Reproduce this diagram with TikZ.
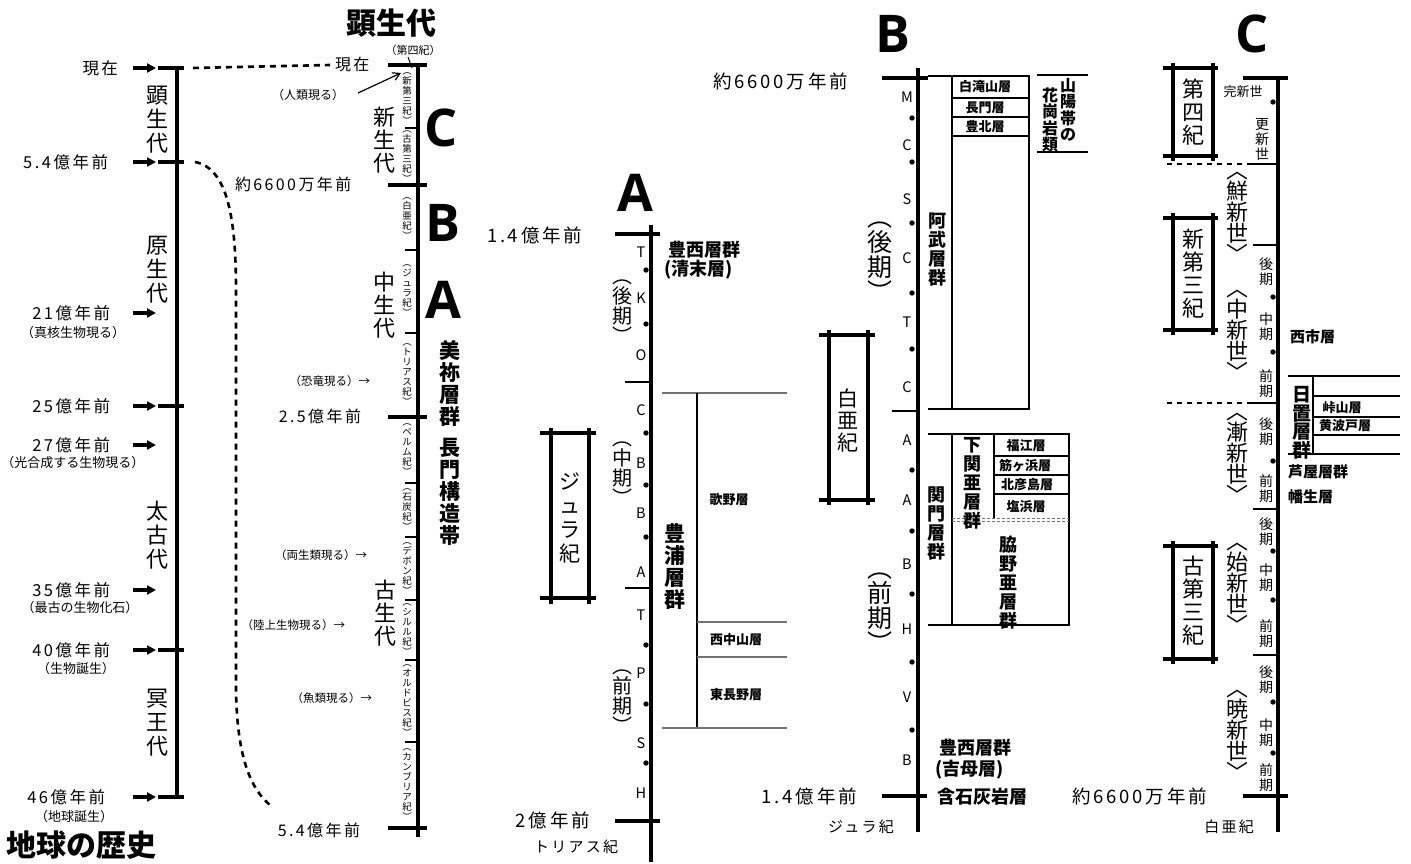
\documentclass[tikz,border=0pt]{standalone}
\usepackage{fontspec}
\usetikzlibrary{arrows.meta}
\setmainfont{Noto Sans CJK JP}
\newfontfamily\jpf{Noto Sans CJK JP}
\newfontfamily\jpd{Noto Sans CJK JP}[LetterSpace=15]
\newfontfamily\abcf{Open Sans}
\newcommand{\fsz}[2]{\fontsize{#1}{#2}\selectfont}
\begin{document}
\begin{tikzpicture}[x=1pt,y=-1pt,
  every node/.style={inner sep=0pt,outer sep=0pt},
  ax/.style={line width=4.5pt},
  tk/.style={line width=4.5pt},
  tn/.style={line width=2pt},
  fr/.style={line width=1.1pt},
  frg/.style={line width=1.1pt,black!55},
  bx/.style={line width=3.5pt},
  arrL/.style={line width=3.5pt,-{Triangle[length=9pt,width=9pt]}},
  dsh/.style={line width=2.6pt,dash pattern=on 6pt off 5pt},
  dshc/.style={line width=1.6pt,dash pattern=on 5pt off 5pt},
  lt/.style={font=\jpf\fsz{14.5}{14.5}},
  dateL/.style={font=\jpd\fsz{16.5}{16.5}},
  dateM/.style={font=\jpd\fsz{16}{16}},
  dateB/.style={font=\jpd\fsz{18.5}{18.5}},
  dateS/.style={font=\jpd\fsz{15}{15}},
  sub/.style={font=\jpf\fsz{13}{13}},
  note/.style={font=\jpf\fsz{11.5}{11.5}},
  era/.style={align=center,font=\jpf\fsz{22}{24}},
  era2/.style={align=center,font=\jpf\fsz{22}{23}},
  per/.style={align=center,font=\jpf\fsz{9.5}{10}},
  abc/.style={font=\abcf\bfseries\fsz{52}{52}},
  bv/.style={align=center,font=\jpf\bfseries\fsz{21}{22}},
  bv18/.style={align=center,font=\jpf\bfseries\fsz{18}{19}},
  bh18/.style={font=\jpf\bfseries\fsz{18}{18}},
  bh15/.style={font=\jpf\bfseries\fsz{15}{15}},
  bh13/.style={font=\jpf\bfseries\fsz{13}{13}},
  sm/.style={align=center,font=\jpf\fsz{14}{15}},
  pv/.style={align=center,font=\jpf\fsz{20}{20}},
  pvb/.style={align=center,font=\jpf\fsz{25}{25}},
  epo/.style={align=center,font=\jpf\fsz{22}{21}}
]
\fill[white] (0,0) rectangle (1411,864);
\useasboundingbox (0,0) rectangle (1411,864);

% ================= Left column: 地球の歴史 =================
\draw[ax] (177,66) -- (177,799);
\foreach \y in {68,162,406,650,797} \draw[tk] (158,\y) -- (184,\y);
\foreach \y in {68,162,313,406,445,590,650,797} \draw[arrL] (133,\y) -- (156,\y);
\node[dateL,anchor=east] (n0) at (118,68) {現在};
\node[dateL,anchor=east] (n1) at (108,162) {5.4億年前};
\node[dateL,anchor=east] (n2) at (110,313) {21億年前};
\node[sub] (s2) at (73,333) {（真核生物現る）};
\node[dateL,anchor=east] (n3) at (110,406) {25億年前};
\node[dateL,anchor=east] (n4) at (110,445) {27億年前};
\node[sub] (s4) at (73,463) {（光合成する生物現る）};
\node[dateL,anchor=east] (n5) at (110,590) {35億年前};
\node[sub] (s5) at (80,608) {（最古の生物化石）};
\node[dateL,anchor=east] (n6) at (110,650) {40億年前};
\node[sub] (s6) at (76,669) {（生物誕生）};
\node[dateL,anchor=east] (n7) at (105,797) {46億年前};
\node[sub] (s7) at (74,817) {（地球誕生）};
\node[era] (e1) at (157,120) {顕\\生\\代};
\node[era] (e2) at (157,270) {原\\生\\代};
\node[era] (e3) at (157,535) {太\\古\\代};
\node[era] (e4) at (157,723) {冥\\王\\代};
\node[font=\jpf\bfseries\fsz{30}{30},anchor=west] (title) at (6,845) {地球の歴史};
\coordinate (d1a) at (193,68);
\coordinate (d1b) at (330,65);
\draw[dsh] (d1a) -- (d1b);
\coordinate (d2a) at (195,162);
\coordinate (d2b) at (270,805);
\draw[dsh] (d2a) .. controls (228,168) and (236,220) .. (236,290) -- (236,690) .. controls (237,760) and (252,790) .. (d2b);

% ================= Second column: 顕生代 =================
\node[font=\jpf\bfseries\fsz{30}{30}] (t2) at (391,23) {顕生代};
\node[font=\jpf\fsz{11}{11}] (q4) at (413,50) {（第四紀）};
\draw[ax] (418,63) -- (418,837);
\foreach \y in {65,185,417,828} \draw[tk] (388,\y) -- (427,\y);
\foreach \y in {128,250,333,483,537,600,660,742} \draw[tn] (405,\y) -- (418,\y);
\node[dateM,anchor=west] (m0) at (335,64) {現在};
\node[dateM,anchor=west] (m1) at (235,184) {約6600万年前};
\node[dateM,anchor=east] (m2) at (361,416) {2.5億年前};
\node[dateM,anchor=east] (m3) at (360,830) {5.4億年前};
\node[font=\jpf\fsz{12}{12}] (hum) at (308,95) {（人類現る）};
\coordinate (humA) at (358,93);
\coordinate (humB) at (401,73);
\draw[line width=1.2pt,-{Straight Barb[length=7pt,width=8pt]}] (humA) -- (humB);
\draw[line width=1pt] (408,57) -- (412,68);
\node[per] (p1) at (407,99) {︵\\新\\第\\三\\紀\\︶};
\node[per] (p2) at (407,157) {︵\\古\\第\\三\\紀\\︶};
\node[per] (p3) at (407,219) {︵\\白\\亜\\紀\\︶};
\node[per] (p4) at (407,291) {︵\\ジ\\ュ\\ラ\\紀\\︶};
\node[per] (p5) at (407,375) {︵\\ト\\リ\\ア\\ス\\紀\\︶};
\node[per] (p6) at (407,450) {︵\\ペ\\ル\\ム\\紀\\︶};
\node[per] (p7) at (407,510) {︵\\石\\炭\\紀\\︶};
\node[per] (p8) at (407,569) {︵\\デ\\ボ\\ン\\紀\\︶};
\node[per] (p9) at (407,630) {︵\\シ\\ル\\ル\\紀\\︶};
\node[per] (p10) at (407,701) {︵\\オ\\ル\\ド\\ビ\\ス\\紀\\︶};
\node[per] (p11) at (407,785) {︵\\カ\\ン\\ブ\\リ\\ア\\紀\\︶};
\node[era2] (f1) at (384,140) {新\\生\\代};
\node[era2] (f2) at (384,305) {中\\生\\代};
\node[era2] (f3) at (385,613) {古\\生\\代};
\node[note,anchor=east] (o1) at (370,381) {（恐竜現る）→};
\node[note,anchor=east] (o2) at (367,555) {（両生類現る）→};
\node[note,anchor=east] (o3) at (345,625) {（陸上生物現る）→};
\node[note,anchor=east] (o4) at (372,698) {（魚類現る）→};
\node[abc] (bigC) at (441,128) {C};
\node[abc] (bigB) at (443,223) {B};
\node[abc] (bigA) at (443,300) {A};
\node[bv] (mine) at (450,383) {美\\祢\\層\\群};
\node[bv] (naga) at (450,492) {長\\門\\構\\造\\帯};

% ================= Column A =================
\node[abc] (hA) at (635,193) {A};
\draw[ax] (651,225) -- (651,862);
\draw[tk] (615,234) -- (660,234);
\draw[tk] (615,821) -- (660,821);
\draw[tn] (625,382) -- (651,382);
\draw[tn] (625,588) -- (651,588);
\foreach \y in {270,324,433,485,537,645,704,763} \fill (646,\y) circle[radius=2.7pt];
\foreach \l/\y in {T/252,K/298,O/355,C/410,B/463,B/513,A/572,T/615,P/673,S/743,H/793} \node[lt] at (641,\y) {\l};
\node[dateB,anchor=west] (a1) at (487,235) {1.4億年前};
\node[dateB,anchor=east] (a2) at (590,820) {2億年前};
\node[dateS] (a3) at (576,847) {トリアス紀};
\node[pv] (aL) at (622,312) {︵\\後\\期\\︶};
\node[pv] (aM) at (622,474) {︵\\中\\期\\︶};
\node[pv] (aE) at (622,702) {︵\\前\\期\\︶};
\node[bh18,anchor=west] (toyo) at (668,250) {豊西層群};
\node[bh18,anchor=west] (kiyo) at (664,270) {(清末層)};
\draw[frg] (662,393) -- (787,393);
\draw[fr] (697,393) -- (697,728);
\draw[frg] (662,728) -- (787,728);
\draw[frg] (697,622) -- (787,622);
\draw[frg] (697,657) -- (787,657);
\node[bv] (toyoura) at (675,567) {豊\\浦\\層\\群};
\node[bh13] (utano) at (729,500) {歌野層};
\node[bh13] (nishi) at (736,640) {西中山層};
\node[bh13] (higa) at (736,695) {東長野層};
\draw[bx] (540,433) -- (596,433);
\draw[bx] (540,598) -- (596,598);
\draw[bx] (551,428) -- (551,604);
\draw[bx] (589,428) -- (589,604);
\node[era2,font=\jpf\fsz{21}{24}] (jura) at (570,518) {ジ\\ュ\\ラ\\紀};

% ================= Column B =================
\node[abc] (hB) at (893,34) {B};
\draw[ax] (918,68) -- (918,832);
\draw[tk] (882,78) -- (928,78);
\draw[tk] (882,796) -- (927,796);
\draw[tn] (892,411) -- (918,411);
\foreach \y in {118,162,223,293,349,470,531,594,662,730} \fill (912,\y) circle[radius=2.7pt];
\foreach \l/\y in {M/97,C/145,S/199,C/258,T/322,C/387,A/440,A/500,B/564,H/629,V/697,B/760} \node[lt] at (907,\y) {\l};
\node[dateB,anchor=east] (b1) at (848,81) {約6600万年前};
\node[dateB,anchor=east] (b2) at (857,796) {1.4億年前};
\node[dateS] (b3) at (861,827) {ジュラ紀};
\node[pvb] (bL) at (880,262) {︵\\後\\期\\︶};
\node[pvb] (bE) at (880,613) {︵\\前\\期\\︶};
\draw[bx] (819,335) -- (875,335);
\draw[bx] (819,500) -- (875,500);
\draw[bx] (829,330) -- (829,505);
\draw[bx] (868,330) -- (868,505);
\node[era2,font=\jpf\fsz{21}{22}] (haku) at (848,420) {白\\亜\\紀};
% upper frame
\draw[fr] (928,76) -- (1030,76);
\draw[fr] (952,76) -- (952,409);
\draw[fr] (1029,76) -- (1029,409);
\draw[fr] (928,409) -- (1030,409);
\draw[fr] (952,98) -- (1029,98);
\draw[fr] (952,117) -- (1029,117);
\draw[fr] (952,136) -- (1029,136);
\node[bh13] (shira) at (985,87) {白滝山層};
\node[bh13] (nagato) at (985,108) {長門層};
\node[bh13] (hoku) at (985,127) {豊北層};
\node[bv18] (abu) at (937,250) {阿\\武\\層\\群};
\draw[fr] (1037,75) -- (1088,75);
\draw[fr] (1037,152) -- (1088,152);
\node[align=center,font=\jpf\bfseries\fsz{16}{16.5}] (san1) at (1068,110) {山\\陽\\帯\\の};
\node[align=center,font=\jpf\bfseries\fsz{16}{16.5}] (san2) at (1050,120) {花\\崗\\岩\\類};
% lower frame
\draw[fr] (928,434) -- (1070,434);
\draw[fr] (952,434) -- (952,625);
\draw[fr] (1069,434) -- (1069,625);
\draw[fr] (928,625) -- (1070,625);
\draw[fr] (994,434) -- (994,518);
\draw[fr] (994,456) -- (1069,456);
\draw[fr] (994,475) -- (1069,475);
\draw[fr] (994,494) -- (1069,494);
\draw[line width=1pt,black!55,dash pattern=on 3pt off 2pt] (952,518) -- (1069,518);
\draw[line width=1pt,black!55,dash pattern=on 3pt off 2pt] (952,521) -- (1069,521);
\node[bh13] (fuku) at (1026,446) {福江層};
\node[bh13] (suji) at (1025,466) {筋ヶ浜層};
\node[bh13] (kita) at (1027,485) {北彦島層};
\node[bh13] (shio) at (1026,507) {塩浜層};
\node[bv18] (shimo) at (972,483) {下\\関\\亜\\層\\群};
\node[bv18] (kanmon) at (936,523) {関\\門\\層\\群};
\node[bv18] (waki) at (1008,583) {脇\\野\\亜\\層\\群};
\node[bh18,anchor=west] (toyoB) at (939,748) {豊西層群};
\node[bh18,anchor=west] (yoshi) at (935,770) {(吉母層)};
\node[bh18,anchor=west] (gan) at (937,797) {含石灰岩層};

% ================= Column C =================
\node[abc] (hC) at (1252,34) {C};
\draw[ax] (1278,78) -- (1278,832);
\draw[tk] (1243,78) -- (1288,78);
\draw[tk] (1243,796) -- (1288,796);
\foreach \y in {102,297,352,461,551,600,702,753} \fill (1273,\y) circle[radius=2.7pt];
\foreach \y in {245,509,655} \draw[line width=1.6pt] (1253,\y) -- (1278,\y);
\foreach \y in {164,403} {\draw[line width=1.6pt] (1248,\y) -- (1278,\y); \draw[dshc] (1167,\y) -- (1248,\y);}
\draw[bx] (1163,68) -- (1218,68);
\draw[bx] (1163,156) -- (1218,156);
\draw[bx] (1173,63) -- (1173,161);
\draw[bx] (1213,63) -- (1213,161);
\node[era2] (q4b) at (1193,112) {第\\四\\紀};
\draw[bx] (1163,218) -- (1218,218);
\draw[bx] (1163,330) -- (1218,330);
\draw[bx] (1173,213) -- (1173,335);
\draw[bx] (1213,213) -- (1213,335);
\node[era2] (n3b) at (1193,274) {新\\第\\三\\紀};
\draw[bx] (1163,546) -- (1218,546);
\draw[bx] (1163,659) -- (1218,659);
\draw[bx] (1173,541) -- (1173,664);
\draw[bx] (1213,541) -- (1213,664);
\node[era2] (k3b) at (1193,601) {古\\第\\三\\紀};
\node[epo] (ep1) at (1237,217) {︿\\鮮\\新\\世\\﹀};
\node[epo] (ep2) at (1237,335) {︿\\中\\新\\世\\﹀};
\node[epo] (ep3) at (1237,458) {︿\\漸\\新\\世\\﹀};
\node[epo] (ep4) at (1237,588) {︿\\始\\新\\世\\﹀};
\node[epo] (ep5) at (1237,735) {︿\\暁\\新\\世\\﹀};
\node[font=\jpf\fsz{13}{13}] (kan) at (1243,92) {完新世};
\node[sm] (kou) at (1262,140) {更\\新\\世};
\foreach \t/\y in {後/272,中/327,前/384,後/432,前/489,後/532,中/578,前/634,後/680,中/733,前/778} \node[sm] at (1266,\y) {\t\\期};
\node[bh15,anchor=west] (nishiichi) at (1290,337) {西市層};
\draw[fr] (1288,376) -- (1400,376);
\draw[fr] (1313,376) -- (1313,454);
\draw[fr] (1313,396) -- (1400,396);
\draw[fr] (1313,417) -- (1400,417);
\draw[fr] (1313,435) -- (1400,435);
\draw[fr] (1288,454) -- (1400,454);
\node[bh13] (toge) at (1342,408) {峠山層};
\node[bh13] (kiba) at (1345,426) {黄波戸層};
\node[align=center,font=\jpf\bfseries\fsz{19}{18.5}] (hioki) at (1302,423) {日\\置\\層\\群};
\node[bh15,anchor=west] (ashiya) at (1288,472) {芦屋層群};
\node[bh15,anchor=west] (hatabu) at (1288,497) {幡生層};
\node[dateB,anchor=east] (c1) at (1207,796) {約6600万年前};
\node[dateS] (c2) at (1229,827) {白亜紀};
\end{tikzpicture}
\end{document}
